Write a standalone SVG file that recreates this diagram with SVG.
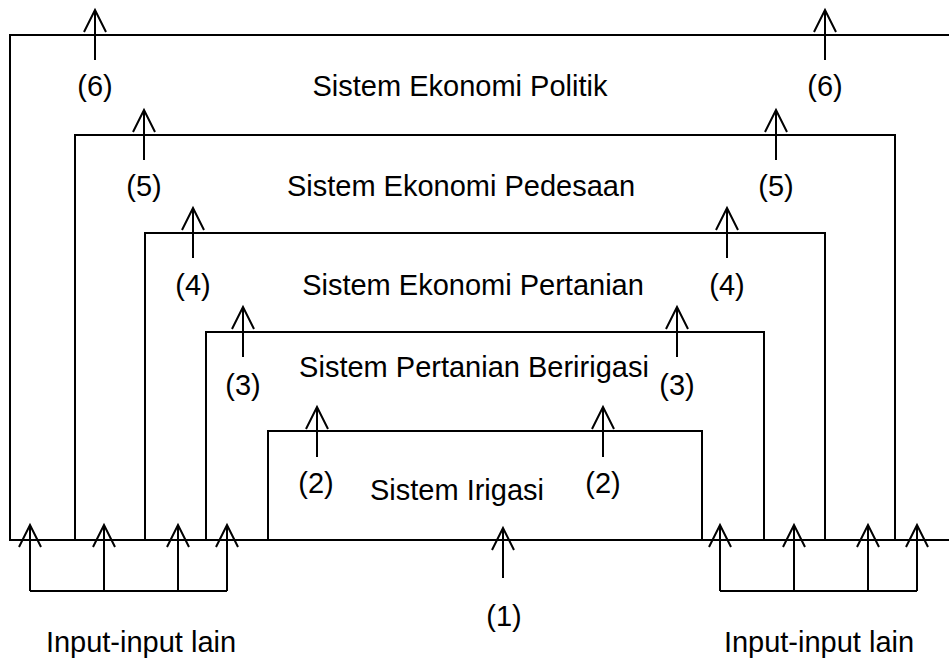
<svg xmlns="http://www.w3.org/2000/svg" width="949" height="659" viewBox="0 0 949 659">
<style>
.box{fill:none;stroke:#000;stroke-width:2}
.arr{fill:none;stroke:#000;stroke-width:2;marker-end:url(#ah)}
.ln{fill:none;stroke:#000;stroke-width:2}
text{font-family:"Liberation Sans",Arial,sans-serif;font-size:29px;fill:#000;text-anchor:middle}
</style>
<defs>
<marker id="ah" markerUnits="userSpaceOnUse" markerWidth="30" markerHeight="30" refX="0" refY="0" orient="auto" overflow="visible">
<path d="M-22,-11 L0,0 L-22,11" fill="none" stroke="#000" stroke-width="2"/>
</marker>
</defs>
<rect width="949" height="659" fill="#fff"/>
<g id="sistem-ekonomi-politik">
<path class="box" d="M949,35 H10 V540 H949"/>
<text x="460" y="96">Sistem Ekonomi Politik</text>
</g>
<g id="sistem-ekonomi-pedesaan">
<path class="box" d="M895,540 V135 H75 V540"/>
<text x="461" y="196">Sistem Ekonomi Pedesaan</text>
</g>
<g id="sistem-ekonomi-pertanian">
<path class="box" d="M825,540 V233 H145 V540"/>
<text x="473" y="295">Sistem Ekonomi Pertanian</text>
</g>
<g id="sistem-pertanian-beririgasi">
<path class="box" d="M764,540 V332 H206 V540"/>
<text x="474" y="377">Sistem Pertanian Beririgasi</text>
</g>
<g id="sistem-irigasi">
<path class="box" d="M702,540 V431 H268 V540"/>
<text x="457" y="500">Sistem Irigasi</text>
</g>
<g id="input-lain-kiri">
<text x="141" y="652">Input-input lain</text>
</g>
<g id="input-lain-kanan">
<text x="819" y="652">Input-input lain</text>
</g>
<g id="connectors">
<line class="arr" x1="95" y1="60" x2="95" y2="10"/>
<line class="arr" x1="825" y1="60" x2="825" y2="10"/>
<line class="arr" x1="144" y1="160" x2="144" y2="110"/>
<line class="arr" x1="776" y1="160" x2="776" y2="110"/>
<line class="arr" x1="193" y1="258" x2="193" y2="208"/>
<line class="arr" x1="727" y1="258" x2="727" y2="208"/>
<line class="arr" x1="243" y1="357" x2="243" y2="307"/>
<line class="arr" x1="677" y1="357" x2="677" y2="307"/>
<line class="arr" x1="317" y1="457" x2="317" y2="407"/>
<line class="arr" x1="603" y1="457" x2="603" y2="407"/>
<line class="arr" x1="503" y1="578" x2="503" y2="528"/>
<path class="ln" d="M30,591 H227"/>
<line class="arr" x1="30" y1="591" x2="30" y2="525"/>
<line class="arr" x1="104" y1="591" x2="104" y2="525"/>
<line class="arr" x1="178" y1="591" x2="178" y2="525"/>
<line class="arr" x1="227" y1="591" x2="227" y2="525"/>
<path class="ln" d="M720,591 H917"/>
<line class="arr" x1="720" y1="591" x2="720" y2="525"/>
<line class="arr" x1="794" y1="591" x2="794" y2="525"/>
<line class="arr" x1="868" y1="591" x2="868" y2="525"/>
<line class="arr" x1="917" y1="591" x2="917" y2="525"/>
<text x="95" y="96">(6)</text>
<text x="825" y="96">(6)</text>
<text x="144" y="196">(5)</text>
<text x="776" y="196">(5)</text>
<text x="193" y="295">(4)</text>
<text x="727" y="295">(4)</text>
<text x="243" y="395">(3)</text>
<text x="677" y="395">(3)</text>
<text x="316" y="493">(2)</text>
<text x="603" y="493">(2)</text>
<text x="504" y="626">(1)</text>
</g>
</svg>
